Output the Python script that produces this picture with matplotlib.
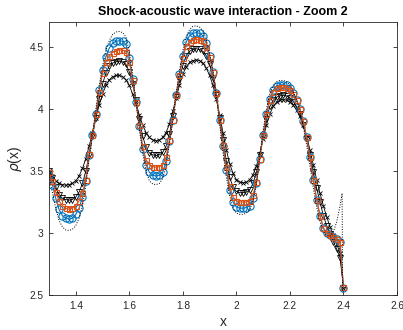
"""
Взаимодействие ударной волны с акустической волной (Shu-Osher), увеличение 2.
"""

import matplotlib
matplotlib.use("Agg")
import matplotlib.pyplot as plt
from matplotlib.ticker import FuncFormatter

# Узлы сетки (dx = 0.0125)
x_grid = [
    1.3000, 1.3125, 1.3250, 1.3375, 1.3500, 1.3625, 1.3750, 1.3875, 1.4000, 1.4125,
    1.4250, 1.4375, 1.4500, 1.4625, 1.4750, 1.4875, 1.5000, 1.5125, 1.5250, 1.5375,
    1.5500, 1.5625, 1.5750, 1.5875, 1.6000, 1.6125, 1.6250, 1.6375, 1.6500, 1.6625,
    1.6750, 1.6875, 1.7000, 1.7125, 1.7250, 1.7375, 1.7500, 1.7625, 1.7750, 1.7875,
    1.8000, 1.8125, 1.8250, 1.8375, 1.8500, 1.8625, 1.8750, 1.8875, 1.9000, 1.9125,
    1.9250, 1.9375, 1.9500, 1.9625, 1.9750, 1.9875, 2.0000, 2.0125, 2.0250, 2.0375,
    2.0500, 2.0625, 2.0750, 2.0875, 2.1000, 2.1125, 2.1250, 2.1375, 2.1500, 2.1625,
    2.1750, 2.1875, 2.2000, 2.2125, 2.2250, 2.2375, 2.2500, 2.2625, 2.2750, 2.2875,
    2.3000, 2.3125, 2.3250, 2.3375, 2.3500, 2.3625, 2.3750, 2.3875, 2.4000,
]

# Синие кружки
rho_blue = [
    3.47, 3.39, 3.28, 3.19, 3.14, 3.12, 3.11, 3.12, 3.15, 3.20,
    3.29, 3.42, 3.63, 3.79, 3.96, 4.15, 4.31, 4.42, 4.49, 4.53,
    4.545, 4.55, 4.545, 4.52, 4.41, 4.24, 4.06, 3.86, 3.68, 3.55,
    3.49, 3.465, 3.46, 3.465, 3.49, 3.58, 3.74, 3.91, 4.11, 4.28,
    4.43, 4.54, 4.59, 4.61, 4.615, 4.61, 4.59, 4.53, 4.43, 4.30,
    4.13, 3.91, 3.70, 3.51, 3.35, 3.25, 3.21, 3.20, 3.20, 3.205,
    3.22, 3.28, 3.40, 3.60, 3.79, 3.96, 4.08, 4.15, 4.185, 4.195,
    4.195, 4.19, 4.165, 4.13, 4.075, 4.00, 3.90, 3.77, 3.61, 3.43,
    3.27, 3.14, 3.04, 3.00, 2.98, 2.965, 2.95, 2.93, 2.56,
]

# Оранжевые квадраты
rho_orange = [
    3.49, 3.42, 3.33, 3.26, 3.22, 3.20, 3.19, 3.20, 3.22, 3.26,
    3.32, 3.43, 3.64, 3.79, 3.96, 4.14, 4.29, 4.38, 4.43, 4.455,
    4.47, 4.475, 4.475, 4.46, 4.38, 4.23, 4.06, 3.87, 3.70, 3.59,
    3.55, 3.535, 3.53, 3.535, 3.55, 3.61, 3.75, 3.91, 4.11, 4.27,
    4.41, 4.51, 4.54, 4.555, 4.56, 4.555, 4.545, 4.50, 4.42, 4.30,
    4.13, 3.91, 3.71, 3.53, 3.38, 3.29, 3.26, 3.25, 3.25, 3.25,
    3.26, 3.31, 3.41, 3.60, 3.79, 3.96, 4.07, 4.14, 4.165, 4.175,
    4.175, 4.17, 4.15, 4.12, 4.07, 4.00, 3.90, 3.77, 3.61, 3.43,
    3.27, 3.14, 3.04, 3.00, 2.98, 2.965, 2.95, 2.93, 2.565,
]

# Чёрные треугольники
rho_tri = [
    3.50, 3.44, 3.37, 3.31, 3.28, 3.27, 3.265, 3.27, 3.29, 3.33,
    3.40, 3.50, 3.63, 3.78, 3.93, 4.08, 4.20, 4.29, 4.345, 4.37,
    4.38, 4.385, 4.38, 4.36, 4.30, 4.20, 4.07, 3.92, 3.78, 3.69,
    3.645, 3.63, 3.625, 3.63, 3.65, 3.70, 3.80, 3.94, 4.10, 4.24,
    4.35, 4.43, 4.465, 4.48, 4.485, 4.48, 4.465, 4.43, 4.36, 4.25,
    4.11, 3.93, 3.75, 3.58, 3.45, 3.37, 3.335, 3.325, 3.325, 3.33,
    3.35, 3.40, 3.49, 3.63, 3.78, 3.92, 4.02, 4.07, 4.095, 4.105,
    4.11, 4.105, 4.09, 4.06, 4.02, 3.96, 3.87, 3.76, 3.63, 3.49,
    3.36, 3.25, 3.14, 3.06, 2.99, 2.93, 2.87, 2.80, 2.56,
]

# Чёрные крестики
rho_cross = [
    3.50, 3.46, 3.42, 3.40, 3.39, 3.385, 3.39, 3.40, 3.42, 3.46,
    3.52, 3.60, 3.70, 3.81, 3.93, 4.03, 4.12, 4.19, 4.235, 4.26,
    4.27, 4.27, 4.26, 4.235, 4.19, 4.12, 4.04, 3.95, 3.87, 3.81,
    3.77, 3.75, 3.745, 3.75, 3.77, 3.81, 3.88, 3.98, 4.09, 4.19,
    4.28, 4.34, 4.375, 4.39, 4.395, 4.39, 4.37, 4.33, 4.27, 4.19,
    4.08, 3.95, 3.81, 3.67, 3.56, 3.48, 3.43, 3.41, 3.405, 3.41,
    3.43, 3.47, 3.54, 3.64, 3.76, 3.87, 3.96, 4.02, 4.055, 4.07,
    4.075, 4.07, 4.055, 4.03, 3.99, 3.94, 3.87, 3.78, 3.67, 3.55,
    3.43, 3.32, 3.22, 3.13, 3.05, 2.98, 2.91, 2.84, 2.56,
]

# Эталонное решение (пунктир)
x_ref = x_grid[:-1] + [2.395, 2.397]
rho_ref = [
    3.45, 3.33, 3.20, 3.10, 3.05, 3.025, 3.02, 3.03, 3.06, 3.12,
    3.22, 3.38, 3.60, 3.80, 4.00, 4.19, 4.35, 4.47, 4.55, 4.60,
    4.62, 4.625, 4.615, 4.58, 4.46, 4.27, 4.06, 3.84, 3.64, 3.50,
    3.42, 3.395, 3.39, 3.40, 3.44, 3.54, 3.72, 3.91, 4.12, 4.31,
    4.47, 4.58, 4.64, 4.665, 4.67, 4.66, 4.63, 4.56, 4.45, 4.30,
    4.11, 3.88, 3.65, 3.45, 3.30, 3.20, 3.16, 3.15, 3.15, 3.16,
    3.19, 3.26, 3.40, 3.62, 3.83, 4.00, 4.12, 4.19, 4.22, 4.23,
    4.23, 4.22, 4.19, 4.14, 4.07, 3.98, 3.86, 3.71, 3.54, 3.36,
    3.21, 3.09, 3.01, 2.98, 2.975, 3.01, 3.09, 3.22, 3.32, 2.52,
]

x_ticks = [1.4, 1.6, 1.8, 2.0, 2.2, 2.4, 2.6]
y_ticks = [2.5, 3.0, 3.5, 4.0, 4.5]

BLUE = (0.0, 0.447, 0.741)
ORANGE = (0.85, 0.325, 0.098)
AXIS_GRAY = (0.15, 0.15, 0.15)

plt.rcParams['font.family'] = ['Liberation Sans', 'DejaVu Sans']

fig = plt.figure(figsize=(4.03, 3.30), dpi=100)
ax = fig.add_axes([0.1216, 0.106, 0.8634, 0.827])

ax.plot(x_grid, rho_cross, color='k', lw=0.6, marker='x', ms=2.6, mew=0.6)
ax.plot(x_grid, rho_tri, color='k', lw=0.6, marker='v', ms=4.6,
        mfc='none', mew=0.6)
ax.plot(x_grid, rho_blue, color=BLUE, lw=0.8, marker='o', ms=5.2,
        mfc='none', mew=0.8)
ax.plot(x_grid, rho_orange, color=ORANGE, lw=0.8, marker='s', ms=3.6,
        mfc='none', mew=0.8)
ax.plot(x_ref, rho_ref, color='k', lw=0.7, ls=(0, (1, 1.6)))

ax.set_xlim(1.3, 2.6)
ax.set_ylim(2.5, 4.7)
ax.set_xticks(x_ticks)
ax.set_yticks(y_ticks)
fmt = FuncFormatter(lambda v, pos: f"{v:g}")
ax.xaxis.set_major_formatter(fmt)
ax.yaxis.set_major_formatter(fmt)

ax.tick_params(direction='in', length=3, width=0.6, top=True, right=True,
               labelsize=7.3, colors=AXIS_GRAY, pad=4)
for sp in ax.spines.values():
    sp.set_color(AXIS_GRAY)
    sp.set_linewidth(0.6)

ax.set_title('Shock-acoustic wave interaction - Zoom 2', fontsize=9,
             fontweight='bold', pad=5)
ax.set_xlabel('x', fontsize=10, color=AXIS_GRAY, labelpad=3)
ax.set_ylabel(r'$\rho$(x)', fontsize=10, color=AXIS_GRAY, labelpad=4)

fig.savefig('out.png', dpi=100)
